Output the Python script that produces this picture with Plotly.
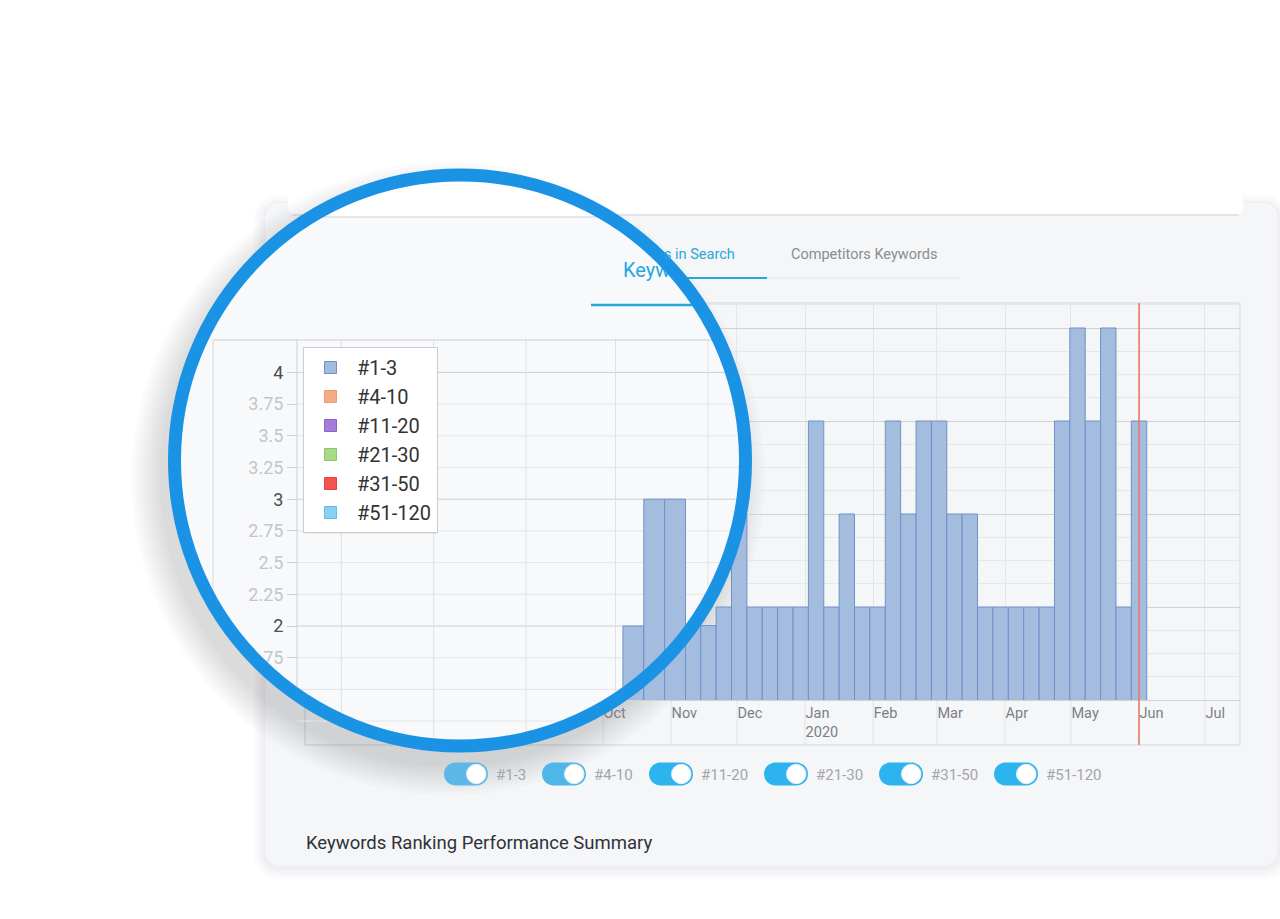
import math
import pandas as pd
import plotly.graph_objects as go

W, H = 1280, 919

# ---------------- data ----------------
week_dates = [
    "2019-10-07", "2019-10-14", "2019-10-21", "2019-10-28", "2019-11-04",
    "2019-11-11", "2019-11-18", "2019-11-25", "2019-12-02", "2019-12-09",
    "2019-12-16", "2019-12-23", "2019-12-30", "2020-01-06", "2020-01-13",
    "2020-01-20", "2020-01-27", "2020-02-03", "2020-02-10", "2020-02-17",
    "2020-02-24", "2020-03-02", "2020-03-09", "2020-03-16", "2020-03-23",
    "2020-03-30", "2020-04-06", "2020-04-13", "2020-04-20", "2020-04-27",
    "2020-05-04", "2020-05-11", "2020-05-18", "2020-05-25", "2020-06-01",
]
rank_1_3 = [
    2, 3, 3, 2, 2,
    1.8, 1.8, 2, 3, 2,
    2, 2, 2, 4, 2,
    3, 2, 2, 4, 3,
    4, 4, 3, 3, 2,
    2, 2, 2, 2, 4,
    5, 4, 5, 2, 4,
]
series_names = ["#1-3", "#4-10", "#11-20", "#21-30", "#31-50", "#51-120"]
series_fill = ["#a4bdde", "#f6ac87", "#a57cd9", "#a8d987", "#f2554f", "#8ad0f3"]
series_edge = ["#6e91c8", "#ee9a70", "#8e62c8", "#8cc66a", "#e8403a", "#5fbde9"]

month_ticks = ["2019-10-01", "2019-11-01", "2019-12-01", "2020-01-01", "2020-02-01",
               "2020-03-01", "2020-04-01", "2020-05-01", "2020-06-01", "2020-07-01"]
month_labels = ["Oct", "Nov", "Dec", "Jan<br>2020", "Feb", "Mar", "Apr", "May", "Jun", "Jul"]
today_date = "2020-06-01"

zoom_month_lines = ["2019-07-01", "2019-08-01", "2019-09-01", "2019-10-01", "2019-11-01"]
zoom_y_ticks = [1.75, 2, 2.25, 2.5, 2.75, 3, 3.25, 3.5, 3.75, 4]
zoom_y_labels = ["1.75", "2", "2.25", "2.5", "2.75", "3", "3.25", "3.5", "3.75", "4"]
zoom_grid_vals = [1.25, 1.5, 1.75, 2, 2.25, 2.5, 2.75, 3, 3.25, 3.5, 3.75, 4]

tab_active = "Keywords in Search"
tab_other = "Competitors Keywords"
summary_title = "Keywords Ranking Performance Summary"

FONT = "Roboto"
WEEK_MS = 7 * 24 * 3600 * 1000

# ---------------- geometry helpers ----------------
def PX(x):
    return x / W

def PY(y):
    return 1 - y / H

def ts(t):
    return t.strftime("%Y-%m-%d %H:%M:%S")

MAIN_REF, MAIN_REF_PX, MAIN_PPD = pd.Timestamp("2020-01-01"), 805.1, 2.197
MAG_REF, MAG_REF_PX, MAG_PPD = pd.Timestamp("2019-10-01"), 615.5, 2.98
MAG_Y2_PX, MAG_PPU = 626.0, 126.8
MAIN_PPU = 93.0

def main_date(px):
    return ts(MAIN_REF + pd.Timedelta(days=(px - MAIN_REF_PX) / MAIN_PPD))

def mag_date(px):
    return ts(MAG_REF + pd.Timedelta(days=(px - MAG_REF_PX) / MAG_PPD))

def mag_px(d):
    return MAG_REF_PX + (pd.Timestamp(d) - MAG_REF).total_seconds() / 86400 * MAG_PPD

def mag_val(py):
    return 2 + (MAG_Y2_PX - py) / MAG_PPU

def mag_py(v):
    return MAG_Y2_PX - (v - 2) * MAG_PPU

# magnifier circle (pixel coords)
CX, CY, R = 460.0, 460.5, 285.5

def half_w(y):
    d = R * R - (y - CY) ** 2
    return math.sqrt(d) if d > 0 else 0.0

def half_h(x):
    d = R * R - (x - CX) ** 2
    return math.sqrt(d) if d > 0 else 0.0

def rrect_path(x0, y0, x1, y1, r):
    k = 0.5523 * r
    pts = [
        ("M", [(x0 + r, y0)]), ("L", [(x1 - r, y0)]),
        ("C", [(x1 - r + k, y0), (x1, y0 + r - k), (x1, y0 + r)]),
        ("L", [(x1, y1 - r)]),
        ("C", [(x1, y1 - r + k), (x1 - r + k, y1), (x1 - r, y1)]),
        ("L", [(x0 + r, y1)]),
        ("C", [(x0 + r - k, y1), (x0, y1 - r + k), (x0, y1 - r)]),
        ("L", [(x0, y0 + r)]),
        ("C", [(x0, y0 + r - k), (x0 + r - k, y0), (x0 + r, y0)]),
    ]
    s = ""
    for cmd, ps in pts:
        s += cmd + " ".join(f"{PX(a):.5f},{PY(b):.5f}" for a, b in ps) + " "
    return s + "Z"

shapes = []
annotations = []

# ---------------- page background: card, panel, shadows ----------------
for i in range(4):
    e = 2 + 3 * i
    shapes.append(dict(type="path", xref="paper", yref="paper", layer="below",
                       path=rrect_path(265 - e, 202 - e + 4, 1278 + e, 866 + e + 2, 14 + e),
                       fillcolor="rgba(60,70,80,0.018)", line=dict(width=0)))
shapes.append(dict(type="path", xref="paper", yref="paper", layer="below",
                   path=rrect_path(265, 202, 1278, 866, 14),
                   fillcolor="#f4f6f8", line=dict(color="#eceef1", width=1)))
# white panel at top of the card
shapes.append(dict(type="path", xref="paper", yref="paper", layer="below",
                   path=rrect_path(288, 120, 1243, 214, 6),
                   fillcolor="#ffffff", line=dict(width=0)))
shapes.append(dict(type="line", xref="paper", yref="paper", layer="below",
                   x0=PX(292), x1=PX(1239), y0=PY(215), y1=PY(215),
                   line=dict(color="#e3e5e8", width=2)))

# tabs underline (main scale)
shapes.append(dict(type="line", xref="paper", yref="paper", layer="below",
                   x0=PX(767), x1=PX(960), y0=PY(278), y1=PY(278),
                   line=dict(color="#e1e3e6", width=1)))
shapes.append(dict(type="line", xref="paper", yref="paper", layer="below",
                   x0=PX(600), x1=PX(767), y0=PY(278), y1=PY(278),
                   line=dict(color="#2aa6df", width=2)))

# chart frame (main)
shapes.append(dict(type="rect", xref="paper", yref="paper", layer="below",
                   x0=PX(305), x1=PX(1240), y0=PY(745), y1=PY(303),
                   line=dict(color="#d3d6da", width=1), fillcolor="rgba(0,0,0,0)"))
# month lines through the label band
for d in month_ticks:
    shapes.append(dict(type="line", xref="x", yref="paper", layer="below",
                       x0=d, x1=d, y0=PY(745), y1=PY(700),
                       line=dict(color="#e2e4e7", width=1)))

# shadow of the magnifier
for i in range(9):
    rr = R + 3 + 3.5 * i
    sx, sy = CX - 12, CY + 18
    shapes.append(dict(type="circle", xref="paper", yref="paper", layer="below",
                       x0=PX(sx - rr), x1=PX(sx + rr), y0=PY(sy + rr), y1=PY(sy - rr),
                       fillcolor="rgba(40,50,60,0.02)", line=dict(width=0)))

# toggles
toggle_x = [444, 542, 649, 764, 879, 994]
toggle_col = ["#5db8e7", "#4fb6ea", "#2db4ee", "#2db4ee", "#2db4ee", "#2db4ee"]
for i, name in enumerate(series_names):
    x0 = toggle_x[i]
    shapes.append(dict(type="path", xref="paper", yref="paper", layer="below",
                       path=rrect_path(x0, 762.5, x0 + 44, 785.5, 11.5),
                       fillcolor=toggle_col[i], line=dict(width=0)))
    shapes.append(dict(type="circle", xref="paper", yref="paper", layer="below",
                       x0=PX(x0 + 22.5), x1=PX(x0 + 42), y0=PY(783.7), y1=PY(764.3),
                       fillcolor="#ffffff", line=dict(color="#e6eef4", width=1)))
    annotations.append(dict(text=name, xref="paper", yref="paper", x=PX(x0 + 50), y=PY(774.5),
                            xanchor="left", yanchor="middle", showarrow=False,
                            font=dict(family=FONT, size=15, color="#a2a5a9")))

# texts
annotations.append(dict(text=tab_active[7:], xref="paper", yref="paper", x=PX(662), y=PY(254),
                        xanchor="left", yanchor="middle", showarrow=False,
                        font=dict(family=FONT, size=14.5, color="#2aa6df")))
annotations.append(dict(text=tab_other, xref="paper", yref="paper", x=PX(789), y=PY(254),
                        xanchor="left", yanchor="middle", showarrow=False,
                        font=dict(family=FONT, size=14.5, color="#8a8d91")))
annotations.append(dict(text=summary_title, xref="paper", yref="paper", x=PX(304), y=PY(843),
                        xanchor="left", yanchor="middle", showarrow=False,
                        font=dict(family=FONT, size=18.5, color="#2f3237")))

# ---------------- magnifier mask & magnified grid (subplot x2/y2, pixel units) ----------------
def s2(**kw):
    d = dict(xref="x2", yref="y2", layer="below")
    d.update(kw)
    shapes.append(d)

s2(type="circle", x0=CX - R, x1=CX + R, y0=CY - R, y1=CY + R,
   fillcolor="#f7f9fa", line=dict(width=0))
# white panel segment at the top of the lens
yb = 216.0
hw = half_w(yb)
a_start = math.atan2(yb - CY, hw)          # right end of the chord
a_end = math.atan2(yb - CY, -hw)           # left end of the chord
pts = [(CX - hw, yb), (CX + hw, yb)]
n = 40
for j in range(n + 1):
    a = a_start - (a_start - a_end) * j / n
    pts.append((CX + R * math.cos(a), CY + R * math.sin(a)))
path = "M" + " L".join(f"{x:.2f},{y:.2f}" for x, y in pts) + " Z"
s2(type="path", path=path, fillcolor="#ffffff", line=dict(width=0))
s2(type="line", x0=CX - hw, x1=CX + hw, y0=yb + 1, y1=yb + 1, line=dict(color="#e4e6e9", width=2))
# magnified tab underline
s2(type="line", x0=591, x1=CX + half_w(305), y0=305, y1=305, line=dict(color="#2aa6df", width=2.5))

# magnified horizontal grid
for v in zoom_grid_vals:
    y = mag_py(v)
    major = abs(v - round(v)) < 1e-9
    s2(type="line", x0=297, x1=CX + half_w(y), y0=y, y1=y,
       line=dict(color="#cdd0d4" if major else "#e3e5e8", width=1))
# magnified vertical grid
for d in zoom_month_lines:
    x = mag_px(d)
    s2(type="line", x0=x, x1=x, y0=340, y1=CY + half_h(x),
       line=dict(color="#dfe1e4", width=1))
# magnified frame + axis line
s2(type="line", x0=213, x1=CX + half_w(340), y0=340, y1=340, line=dict(color="#cdd0d4", width=1))
s2(type="line", x0=213, x1=213, y0=340, y1=CY + half_h(213), line=dict(color="#d6d8dc", width=1))
s2(type="line", x0=297, x1=297, y0=340, y1=CY + half_h(297), line=dict(color="#cdd0d4", width=1))

# ---------------- ring and overlays ----------------
shapes.append(dict(type="line", xref="x", yref="paper", layer="above",
                   x0=today_date, x1=today_date, y0=PY(745), y1=PY(303),
                   line=dict(color="#e9725f", width=1.5)))
# legend shadow
shapes.append(dict(type="rect", xref="paper", yref="paper", layer="above",
                   x0=PX(305), x1=PX(437), y0=PY(534), y1=PY(349),
                   fillcolor="rgba(0,0,0,0.06)", line=dict(width=0)))
shapes.append(dict(type="circle", xref="paper", yref="paper", layer="above",
                   x0=PX(CX - R), x1=PX(CX + R), y0=PY(CY + R), y1=PY(CY - R),
                   line=dict(color="#1b93e4", width=13), fillcolor="rgba(0,0,0,0)"))

# ---------------- traces ----------------
fig = go.Figure()
fig.add_trace(go.Bar(x=week_dates, y=rank_1_3, width=[WEEK_MS] * len(week_dates),
                     name=series_names[0], xaxis="x", yaxis="y",
                     marker=dict(color=series_fill[0], line=dict(color=series_edge[0], width=1))))
for i in range(1, len(series_names)):
    fig.add_trace(go.Bar(x=[None], y=[None], name=series_names[i], xaxis="x", yaxis="y",
                         marker=dict(color=series_fill[i], line=dict(color=series_edge[i], width=1))))
# magnified tab text (sits under the ring)
fig.add_trace(go.Scatter(x=[623], y=[272], mode="text", text=[tab_active[:4]],
                         textposition="middle right", xaxis="x2", yaxis="y2",
                         textfont=dict(family=FONT, size=20, color="#2aa6df"),
                         showlegend=False, hoverinfo="skip", cliponaxis=False))
# magnified bars
fig.add_trace(go.Bar(x=week_dates, y=rank_1_3, width=[WEEK_MS] * len(week_dates),
                     name=series_names[0], xaxis="x3", yaxis="y3", showlegend=False,
                     marker=dict(color=series_fill[0], line=dict(color=series_edge[0], width=1))))

ticktext3 = [(f"<span style='color:#4a4d52'>{t}</span>" if float(t).is_integer()
              else f"<span style='color:#c3c6ca'>{t}</span>") for t in zoom_y_labels]

BX0, BX1, BY0, BY1 = CX - R - 20, CX + R + 20, CY - R - 20, CY + R + 20

fig.update_layout(
    width=W, height=H, margin=dict(l=0, r=0, t=0, b=0),
    paper_bgcolor="#ffffff", plot_bgcolor="rgba(0,0,0,0)",
    font=dict(family=FONT), hovermode=False, barmode="overlay",
    shapes=shapes, annotations=annotations,
    xaxis=dict(domain=[PX(305), PX(1240)], type="date",
               range=[main_date(305), main_date(1240)],
               tickmode="array", tickvals=month_ticks, ticktext=month_labels,
               ticklabelposition="outside right", ticks="",
               showgrid=True, gridcolor="#e3e5e8", gridwidth=1,
               showline=True, linecolor="#cfd2d6", linewidth=1, zeroline=False,
               tickfont=dict(family=FONT, size=14.5, color="#7b7f85"), anchor="y"),
    yaxis=dict(domain=[PY(700), PY(303)], range=[1, 1 + (700 - 303) / MAIN_PPU],
               dtick=1, tick0=0, showticklabels=False, ticks="",
               showgrid=True, gridcolor="#cfd2d6", zeroline=False, showline=False,
               minor=dict(dtick=0.25, tick0=0, showgrid=True, gridcolor="#e5e7ea"),
               anchor="x"),
    xaxis2=dict(domain=[PX(BX0), PX(BX1)], range=[BX0, BX1], visible=False, anchor="y2"),
    yaxis2=dict(domain=[PY(BY1), PY(BY0)], range=[BY1, BY0], visible=False, anchor="x2"),
    xaxis3=dict(domain=[PX(297), PX(686)], type="date",
                range=[mag_date(297), mag_date(686)], visible=False, anchor="y3"),
    yaxis3=dict(domain=[PY(700), PY(340)], range=[mag_val(700), mag_val(340)],
                anchor="free", position=PX(297),
                tickmode="array", tickvals=zoom_y_ticks, ticktext=ticktext3,
                ticks="outside", ticklen=10, tickcolor="#cdd0d4",
                showgrid=False, zeroline=False, showline=False,
                tickfont=dict(family=FONT, size=18, color="#c3c6ca")),
    legend=dict(x=PX(303), y=PY(347), xanchor="left", yanchor="top",
                bgcolor="#ffffff", bordercolor="#c9ccd0", borderwidth=1,
                font=dict(family=FONT, size=20, color="#333333"),
                itemwidth=43, traceorder="normal", tracegroupgap=0),
    showlegend=True,
)

fig.write_html("out.html", config={"displayModeBar": False},
               post_script="document.body.style.margin='0';document.body.style.overflow='hidden';")
